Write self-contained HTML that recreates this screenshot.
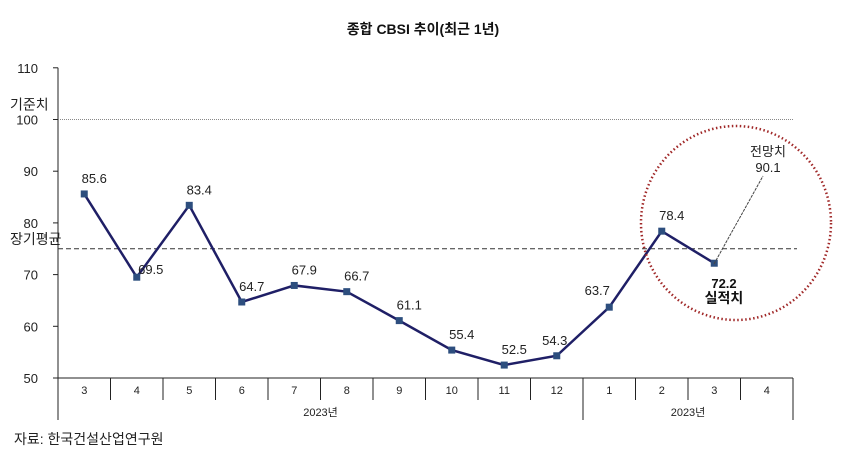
<!DOCTYPE html>
<html><head><meta charset="utf-8"><style>
body{margin:0;background:#fff;}
svg text{font-family:"Liberation Sans","Noto Sans CJK KR",sans-serif;}
</style></head><body>
<svg width="846" height="454" viewBox="0 0 846 454" id="chart">
<text x="423" y="34" text-anchor="middle" font-size="14" font-weight="bold" fill="#111">종합 CBSI 추이(최근 1년)</text>
<g id="axes"></g>
<g id="marks"></g>
<ellipse cx="736" cy="223" rx="95" ry="97" fill="none" stroke="#a02828" stroke-width="2.5" stroke-dasharray="1.5 2.5"/>
<line x1="714" y1="264" x2="763" y2="176" stroke="#444" stroke-width="1" stroke-dasharray="3 1"/>
<text x="768" y="156" text-anchor="middle" font-size="13" fill="#222">전망치</text>
<text x="768" y="172" text-anchor="middle" font-size="13" fill="#222">90.1</text>
<text x="724" y="288" text-anchor="middle" font-size="13" font-weight="bold" fill="#111">72.2</text>
<text x="724" y="303" text-anchor="middle" font-size="14" font-weight="bold" fill="#111">실적치</text>
<text x="14" y="444" font-size="14" fill="#222">자료: 한국건설산업연구원</text>
</svg>
<script>
const categories=["3","4","5","6","7","8","9","10","11","12","1","2","3","4"];
const values=[85.6,69.5,83.4,64.7,67.9,66.7,61.1,55.4,52.5,54.3,63.7,78.4,72.2];
const labels=["85.6","69.5","83.4","64.7","67.9","66.7","61.1","55.4","52.5","54.3","63.7","78.4",""];
const yTicks=[50,60,70,80,90,100,110];
const refBase=100, refAvg=75;
const NS="http://www.w3.org/2000/svg";
const x0=58,slot=52.5,yBase=378,pxPer=5.17;
const xc=i=>x0+slot*(i+0.5);
const y=v=>yBase-(v-50)*pxPer;
function mk(tag,attrs,parent,text){const e=document.createElementNS(NS,tag);for(const k in attrs)e.setAttribute(k,attrs[k]);if(text!==undefined)e.textContent=text;parent.appendChild(e);return e;}
const ax=document.getElementById('axes'),mg=document.getElementById('marks');
let e=mk('line',{x1:x0,y1:y(110),x2:x0,y2:420,stroke:'#222'},ax);

yTicks.forEach(t=>{
 let l=mk('line',{x1:x0-5,y1:y(t),x2:x0,y2:y(t),stroke:'#222'},ax);
 
 let tx=mk('text',{x:38,y:y(t)+5,'font-size':13,'text-anchor':'end',fill:'#222'},ax,String(t));
 
});
const xEnd=x0+slot*categories.length;
e=mk('line',{x1:x0,y1:yBase,x2:xEnd,y2:yBase,stroke:'#222'},ax);

for(let i=1;i<=categories.length;i++){
 const xx=x0+slot*i;const long=(i===10||i===categories.length);
 let l=mk('line',{x1:xx,y1:yBase,x2:xx,y2:long?420:400,stroke:'#222'},ax);
 
}
categories.forEach((c,i)=>{
 let t=mk('text',{x:xc(i),y:394,'font-size':11,'text-anchor':'middle',fill:'#222'},ax,c);
 
});
[[x0+slot*5,'2023년'],[x0+slot*12,'2023년']].forEach(([xx,s])=>{
 let t=mk('text',{x:xx,y:416,'font-size':11,'text-anchor':'middle',fill:'#222'},ax,s);
 
});
e=mk('line',{x1:x0,y1:y(refBase),x2:xEnd,y2:y(refBase),stroke:'#888','stroke-dasharray':'1 1'},ax);

e=mk('text',{x:10,y:y(refBase)-10,'font-size':14,fill:'#222'},ax,'기준치');

e=mk('line',{x1:x0,y1:y(refAvg),x2:xEnd+4,y2:y(refAvg),stroke:'#333','stroke-dasharray':'5 3'},ax);

e=mk('text',{x:10,y:y(refAvg)-5,'font-size':14,fill:'#222'},ax,'장기평균');

e=mk('polyline',{points:values.map((v,i)=>xc(i)+','+y(v)).join(' '),fill:'none',stroke:'#1f1f66','stroke-width':2.5},mg);

values.forEach((v,i)=>{
 let p=mk('rect',{x:xc(i)-3.5,y:y(v)-3.5,width:7,height:7,fill:'#2d4e7e'},mg);
 
 if(labels[i]){
  let dx=10,dy=-11;
  if(i===1){dx=14;dy=-3;}
  if(i===10){dx=-12;dy=-12;}
  if(i===9){dx=-2;dy=-11;}
  let t=mk('text',{x:xc(i)+dx,y:y(v)+dy,'font-size':13,'text-anchor':'middle',fill:'#222'},mg,labels[i]);
  
 }
});
</script>
</body></html>
